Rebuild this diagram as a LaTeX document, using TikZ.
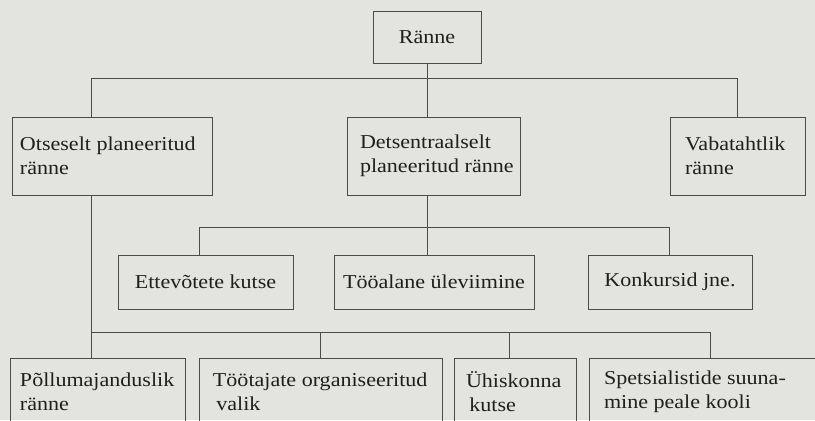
\documentclass[tikz,border=0pt]{standalone}
\usepackage{fontspec}
\setmainfont[FakeStretch=1.12]{Liberation Serif}
\definecolor{paper}{rgb}{0.89,0.89,0.88}
\definecolor{ink}{rgb}{0.12,0.12,0.12}
\begin{document}
\begin{tikzpicture}[x=0.03cm, y=-0.03cm,
    box/.style={draw=ink!80, line width=0.7pt, inner sep=0pt, text=ink,
      font=\fontsize{16.8}{20.5}\selectfont},
    lbox/.style={box, align=flush left, inner ysep=0pt},
    link/.style={draw=ink!80, line width=0.7pt}]
        \useasboundingbox (0,0) rectangle (815,420);
        \clip (0,0) rectangle (815,420);
        \fill[paper] (0,0) rectangle (815,420);

        % top
        \node[box, minimum width=3.24cm, minimum height=1.56cm] (ranne) at (427,37) {Ränne};

        % second row
        \node[lbox, text width=5.52cm, inner xsep=0.24cm, minimum height=2.34cm] (otse) at (112,156) {Otseselt planeeritud\\ränne};
        \node[lbox, text width=4.41cm, inner xsep=0.39cm, minimum height=2.34cm] (dets) at (433.5,156) {Detsentraalselt\\\mbox{planeeritud ränne}};
        \node[lbox, text width=3.15cm, inner xsep=0.45cm, minimum height=2.34cm] (vaba) at (737.5,156) {Vabatahtlik\\ränne};

        % third row
        \node[box, minimum width=5.25cm, minimum height=1.62cm] (ette) at (205.5,282) {Ettevõtete kutse};
        \node[box, minimum width=6.0cm, minimum height=1.62cm] (tooala) at (434,282) {Tööalane üleviimine};
        \node[box, minimum width=4.92cm, minimum height=1.62cm] (konk) at (670,282) {Konkursid jne.};

        % bottom row
        \node[lbox, text width=4.65cm, inner xsep=0.30cm, minimum height=2.01cm] (pollu) at (97.5,391.5) {Põllumajanduslik\\ränne};
        \node[lbox, text width=6.45cm, inner xsep=0.42cm, minimum height=2.01cm] (tootaj) at (320.5,391.5) {Töötajate organiseeritud\\\hspace*{0.1cm}valik};
        \node[lbox, text width=2.94cm, inner xsep=0.36cm, minimum height=2.01cm] (uhisk) at (515,391.5) {Ühiskonna\\\hspace*{0.1cm}kutse};
        \node[lbox, text width=6.33cm, inner xsep=0.45cm, minimum height=2.01cm] (spets) at (709.5,391.5) {Spetsialistide suuna-\\mine peale kooli};

        % junctions
        \coordinate (t1) at (91,78);
        \coordinate (t3) at (737,78);
        \coordinate (m1) at (199,227);
        \coordinate (m3) at (669,227);
        \coordinate (p1) at (91,332);
        \coordinate (p2) at (320,332);
        \coordinate (p3) at (509,332);
        \coordinate (p4) at (710,332);

        \draw[link] (ranne.south) -- (ranne.south |- dets.north);
        \draw[link] (t1 |- otse.north) -- (t1) -- (t3) -- (t3 |- vaba.north);

        \draw[link] (ranne.south |- dets.south) -- (ranne.south |- tooala.north);
        \draw[link] (m1 |- ette.north) -- (m1) -- (m3) -- (m3 |- konk.north);

        \draw[link] (t1 |- otse.south) -- (t1 |- pollu.north);
        \draw[link] (p1) -- (p4) -- (p4 |- spets.north);
        \draw[link] (p2) -- (p2 |- tootaj.north);
        \draw[link] (p3) -- (p3 |- uhisk.north);
    \end{tikzpicture}
\end{document}
